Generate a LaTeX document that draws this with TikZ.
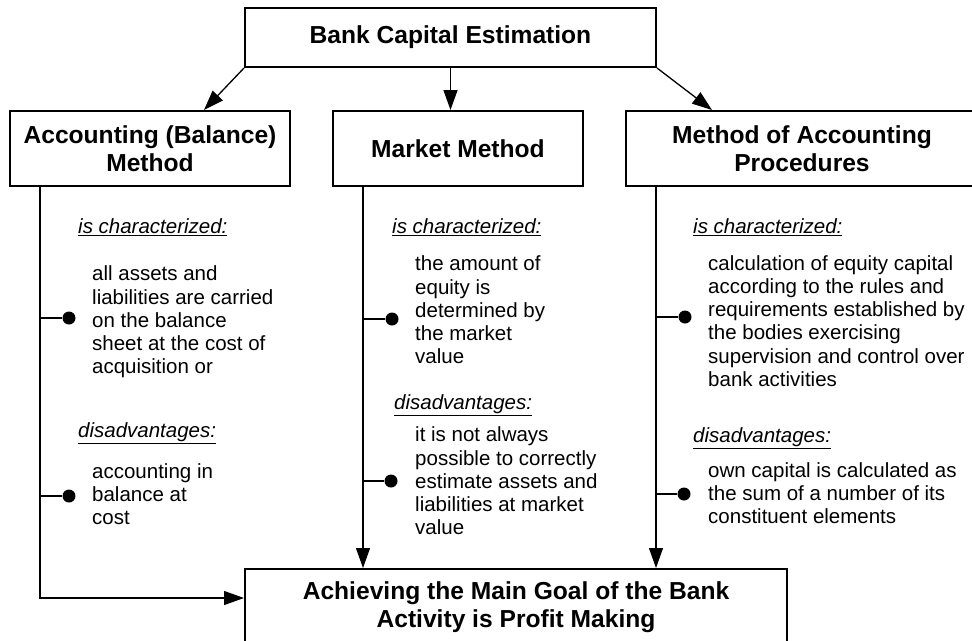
\documentclass[tikz,border=0pt]{standalone}
\usepackage{fontspec}
\setmainfont{Liberation Sans}
\usetikzlibrary{arrows.meta}

\begin{document}
\begin{tikzpicture}[x=1pt,y=-1pt]
    \newcommand{\bodyfont}{\fontsize{20.5}{23.3}\selectfont}
    \newcommand{\headfont}{\fontsize{24.6}{28}\selectfont\bfseries}
    \newcommand{\dotrad}{6.5pt} % radius of the bullet dots

    % styles of the boxes, texts and connectors
    \tikzset{
        box/.style={draw, line width=2pt, align=center, font=\headfont, inner sep=0pt},
        txt/.style={anchor=west, align=left, inner sep=0pt, font=\bodyfont},
        lbl/.style={txt, font=\bodyfont\itshape},
        dot/.style={circle, fill, inner sep=0pt, minimum size=2*\dotrad},
        link/.style={line width=1.3pt},
        arr/.style={link, -{Triangle[length=20pt,width=14pt]}}
    }

    \useasboundingbox (0,0) rectangle (972,640);

    % boxes
    \node[box, minimum width=411, minimum height=59] (top) at (450.5,37.5) {Bank Capital Estimation};
    \node[box, minimum width=280, minimum height=75] (acc) at (150,148.5) {Accounting (Balance)\\Method};
    \node[box, minimum width=250, minimum height=75] (mkt) at (458,148.5) {Market Method};
    \node[box, minimum width=352, minimum height=75] (proc) at (802,148.5) {Method of Accounting\\Procedures};
    \node[box, minimum width=542, minimum height=76] (goal) at (516,607) {Achieving the Main Goal of the Bank\\Activity is Profit Making};

    % columns
    \coordinate (c1) at (40,0);
    \coordinate (c2) at (363,0);
    \coordinate (c3) at (656,0);
    \coordinate (lft) at (0,598);

    % arrows
    \draw[arr] (top.south west) -- ([xshift=-87pt]acc.north east);
    \draw[arr] (top.south) -- (top.south |- mkt.north);
    \draw[arr] (top.south east) -- ([xshift=87pt]proc.north west);
    \draw[arr] (acc.south -| c1) |- (goal.west |- lft);
    \draw[arr] (mkt.south -| c2) -- (goal.north -| c2);
    \draw[arr] (proc.south -| c3) -- (goal.north -| c3);

    % accounting method
    \node[lbl] (ch1) at (78,227) {\underline{is characterized:}};
    \node[dot] (d11) at (69,318) {};
    \node[txt] (t11) at (92,322) {all assets and\\liabilities are carried\\on the balance\\sheet at the cost of\\acquisition or};
    \node[lbl] (dis1) at (78,433) {\underline{disadvantages:}};
    \node[dot] (d12) at (69,496) {};
    \node[txt] (t12) at (92,494) {accounting in\\balance at\\cost};
    \draw[link] (d11 -| c1) -- (d11);
    \draw[link] (d12 -| c1) -- (d12);

    % market method
    \node[lbl] (ch2) at (392,227) {\underline{is characterized:}};
    \node[dot] (d21) at (392,319) {};
    \node[txt] (t21) at (415,310) {the amount of\\equity is\\determined by\\the market\\value};
    \node[lbl] (dis2) at (394,405) {\underline{disadvantages:}};
    \node[dot] (d22) at (391,481) {};
    \node[txt] (t22) at (415,481) {it is not always\\possible to correctly\\estimate assets and\\liabilities at market\\value};
    \draw[link] (d21 -| c2) -- (d21);
    \draw[link] (d22 -| c2) -- (d22);

    % method of accounting procedures
    \node[lbl] (ch3) at (693,227) {\underline{is characterized:}};
    \node[dot] (d31) at (685,317) {};
    \node[txt] (t31) at (708,321) {calculation of equity capital\\according to the rules and\\requirements established by\\the bodies exercising\\supervision and control over\\bank activities};
    \node[lbl] (dis3) at (693,438) {\underline{disadvantages:}};
    \node[dot] (d32) at (684,494) {};
    \node[txt] (t32) at (708,493) {own capital is calculated as\\the sum of a number of its\\constituent elements};
    \draw[link] (d31 -| c3) -- (d31);
    \draw[link] (d32 -| c3) -- (d32);
\end{tikzpicture}
\end{document}
